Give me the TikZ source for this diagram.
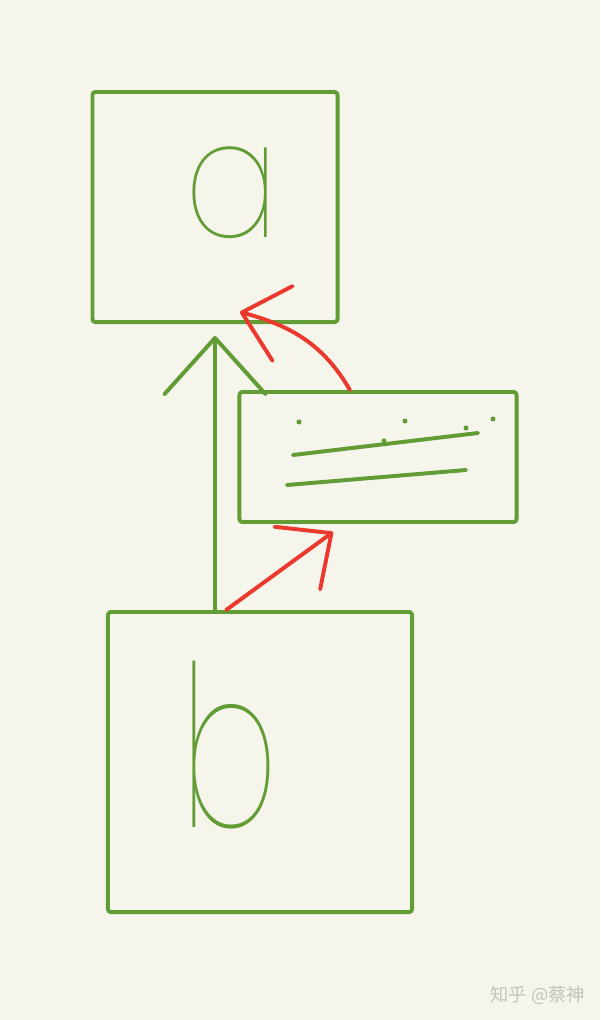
\documentclass[tikz,border=0pt]{standalone}
\usepackage{fontspec}
\newfontfamily\cjkfont{Noto Sans CJK SC}
\newfontfamily\thinfont{Poppins Thin}
\usepackage{tikz}
\usetikzlibrary{arrows.meta,calc}
\definecolor{paper}{RGB}{245,245,235}
\definecolor{pengreen}{RGB}{98,156,52}
\definecolor{penred}{RGB}{235,58,45}
\definecolor{markgray}{RGB}{196,196,190}
\tikzset{
  sketchbox/.style={draw=pengreen, line width=2.8pt, line join=round, rounded corners=2pt, inner sep=0pt},
  letter/.style={text=pengreen, inner sep=0pt},
  penline/.style={pengreen, line width=2.8pt, line cap=round},
  greenarrow/.style={pengreen, line width=2.8pt, line cap=round, -{Straight Barb[round, length=40pt, width=72pt]}},
  redarrow/.style={penred, line width=2.8pt, line cap=round, -{Straight Barb[round, length=30pt, width=55pt]}}
}

\begin{document}
\begin{tikzpicture}[x=0.025cm, y=0.025cm]
    \fill [paper] (0,0) rectangle (600,-1020);
    \useasboundingbox (0,0) rectangle (600,-1020);

    % the three boxes
    \node [sketchbox, minimum width=6.125cm, minimum height=5.75cm] (a) at (215,-207) {};
    \node [letter, xscale=0.85, font=\thinfont\fontsize{118}{118}\selectfont] (lettera) at (232,-193) {a};

    \node [sketchbox, minimum width=6.925cm, minimum height=3.25cm] (mid) at (378,-457) {};

    \node [sketchbox, minimum width=7.6cm, minimum height=7.5cm] (b) at (260,-762) {};
    \node [letter, xscale=0.65, font=\thinfont\fontsize{160}{160}\selectfont] (letterb) at (230,-745) {b};

    % lines and dots inside the middle box
    \draw [penline] (293,-455) -- (478,-433);
    \draw [penline] (287,-485) -- (466,-470);
    \foreach \p in {(299,-422),(405,-421),(466,-428),(493,-419),(384,-441)}
      \fill [pengreen] \p circle (1.8pt);

    % arrows
    \draw [greenarrow] (b.north -| a.south) -- ($(a.south)+(0,-12)$);
    \draw [redarrow] ($(mid.north west)!0.4!(mid.north east)$) to[out=120, in=-15] ($(a.south west)!0.6!(a.south east)+(0,12)$);
    \draw [redarrow] ($(b.north west)!0.39!(b.north east)$) -- ($(mid.south west)!0.34!(mid.south east)+(0,-8)$);

    \node [text=markgray, font=\cjkfont\fontsize{13}{13}\selectfont, anchor=east] (mark) at (590,-995) {知乎 @蔡神};
\end{tikzpicture}
\end{document}
